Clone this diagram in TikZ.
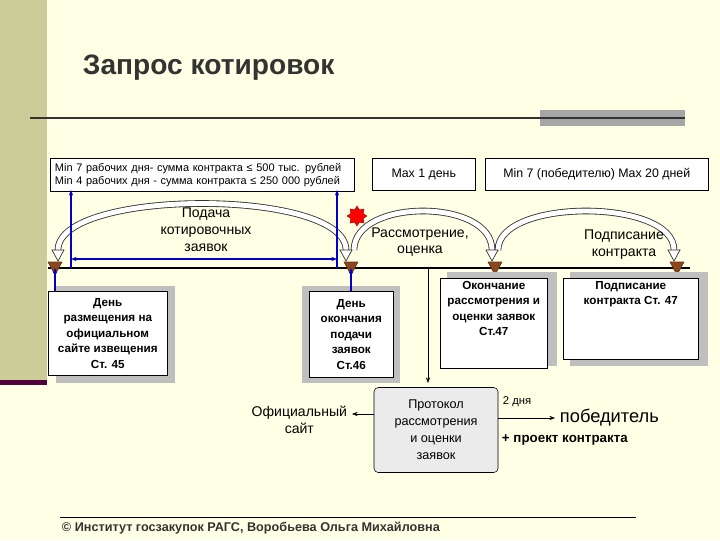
\documentclass[tikz,border=0pt]{standalone}
\usepackage{fontspec}
\setmainfont{Liberation Sans}
\usetikzlibrary{positioning,shapes.geometric,arrows.meta}
\definecolor{bgyel}{RGB}{255,255,229}
\definecolor{olive}{RGB}{204,204,153}
\definecolor{plum}{RGB}{80,0,60}
\definecolor{tri}{RGB}{140,70,30}
\definecolor{navy}{RGB}{0,0,200}
\tikzset{
  info/.style={draw,fill=white,font=\fontsize{7.8}{9.5}\selectfont},
  stage/.style={draw,fill=white,align=center,font=\bfseries\fontsize{8.3}{11}\selectfont,
    anchor=north west,inner sep=2pt},
  shadowbox/.style={fill=black!25},
  pin/.style={fill=tri,draw=tri!70!black},
  barrow/.style={navy,line width=1.3pt,-{Stealth[length=4pt]}},
  bow/.style={double=white,draw=black!80,line width=0.6pt,double distance=3.5pt},
  tip/.style={fill=white,draw=black!80,line width=0.5pt},
  lbl/.style={font=\fontsize{10}{12}\selectfont,align=center}
}
\begin{document}
\begin{tikzpicture}[x=0.025cm,y=-0.025cm]
\fill[bgyel] (0,0) rectangle (720,540);
\useasboundingbox (0,0) rectangle (720,540);
\fill[olive] (0,0) rectangle (47,380);
\fill[plum] (0,380) rectangle (47,385);
\node[anchor=west,font=\bfseries\fontsize{20}{24}\selectfont,text=black!80] (title) at (78,68) {Запрос котировок};
\fill[black!35] (540,110) rectangle (685,126);
\draw[line width=1pt,black!80] (30,118) -- (685,118);

% top boxes
\node[info,anchor=north west,align=left,text width=295*0.025cm,minimum height=32*0.025cm] (t1) at (50,158)
  {Min 7 рабочих дня- сумма контракта ≤ 500 тыс. рублей\\Min 4 рабочих дня - сумма контракта ≤ 250 000 рублей};
\node[info,anchor=north west,font=\fontsize{8.8}{10}\selectfont,minimum width=103*0.025cm,minimum height=32*0.025cm] (t2) at (372,158) {Max 1 день};
\node[info,anchor=north west,font=\fontsize{8.8}{10}\selectfont,minimum width=223*0.025cm,minimum height=32*0.025cm] (t3) at (485,158) {Min 7 (победителю) Max 20 дней};

% timeline
\coordinate (l0) at (48,268);
\coordinate (l1) at (690,268);
\draw[line width=1.3pt] (l0) -- (l1);
\foreach \x/\n in {55/a,351/b,495/c,677/d}{
  \coordinate (m\n) at (\x,268);
  \fill[pin] (\x-7,262) -- (\x+7,262) -- (\x,275) -- cycle;
}

% arcs
\draw[bow] (58,250) .. controls (58,188) and (346,188) .. (346,250);
\draw[bow] (354,250) .. controls (354,198) and (492,198) .. (492,250);
\draw[bow] (498,250) .. controls (498,198) and (674,198) .. (674,250);
\foreach \x in {58,346,492,674}
  \filldraw[tip] (\x-6,250) -- (\x+6,250) -- (\x,261) -- cycle;
\node[lbl] (podacha) at (206,230) {Подача\\котировочных\\заявок};
\node[lbl] (rassm) at (420,242) {Рассмотрение,\\оценка};
\node[lbl] (podp) at (624,245) {Подписание\\контракта};
\node[star,star points=8,fill=red,draw=red!70!black,inner sep=0pt,minimum size=14] (star) at (357,216) {};

% blue intervals
\coordinate (u1) at (71,268); \coordinate (v1) at (71,190);
\coordinate (u2) at (337,268); \coordinate (v2) at (337,190);
\draw[barrow] (u1) -- (v1);
\draw[barrow] (u2) -- (v2);
\coordinate (h1) at (71,259); \coordinate (h2) at (337,259);
\draw[barrow,{Stealth[length=4pt]}-{Stealth[length=4pt]}] (h1) -- (h2);

% lower boxes
\fill[shadowbox] (56,286) rectangle (175,383);
\node[stage,minimum width=119*0.025cm,minimum height=84*0.025cm] (den1) at (48,291)
  {День\\размещения на\\официальном\\сайте извещения\\Ст. 45};
\fill[shadowbox] (302,286) rectangle (400,383);
\node[stage,minimum width=84*0.025cm,minimum height=86*0.025cm] (den2) at (309,291)
  {День\\окончания\\подачи\\заявок\\Ст.46};
\fill[shadowbox] (447,272) rectangle (557,366);
\node[stage,minimum width=107*0.025cm,minimum height=85*0.025cm] (okon) at (440,278)
  {Окончание\\рассмотрения и\\оценки заявок\\Ст.47\\[10pt]};
\fill[shadowbox] (570,272) rectangle (708,366);
\node[stage,minimum width=135*0.025cm,minimum height=80*0.025cm] (podk) at (563,278)
  {Подписание\\контракта Ст. 47\\[26pt]};
\draw[barrow,line width=1.5pt] (den1.north -| ma) -- (ma);
\draw[barrow,line width=1.5pt] (den2.north -| mb) -- (mb);

% protocol scroll
\coordinate (down) at (428,268);
\node[draw,fill=white!92!black,rounded corners=3pt,minimum width=124*0.025cm,minimum height=85*0.025cm,
  align=center,font=\fontsize{9}{12}\selectfont] (prot) at (436,430)
  {Протокол\\рассмотрения\\и оценки\\заявок};
\draw[-{Stealth[length=4pt]}] (down) -- (428,383);
\node[lbl,anchor=east] (site) at (352,420) {Официальный\\сайт};
\draw[-{Stealth[length=4pt]}] (prot.west |- 0,414) -- (site.east |- 0,414);
\node[font=\fontsize{13}{16}\selectfont,anchor=west] (win) at (555,418) {победитель};
\draw[-{Stealth[length=4pt]}] (prot.east |- 0,418) -- (win.west);
\node[font=\fontsize{8}{9}\selectfont] (dnya) at (517,402) {2 дня};
\node[font=\bfseries\fontsize{9.5}{11}\selectfont,anchor=west] (proekt) at (497,440) {+ проект контракта};

% footer
\draw (60,517) -- (636,517);
\node[anchor=west,font=\bfseries\fontsize{9}{10}\selectfont,text=black!80] (foot) at (57,528)
  {© Институт госзакупок РАГС, Воробьева Ольга Михайловна};
\end{tikzpicture}
\end{document}
